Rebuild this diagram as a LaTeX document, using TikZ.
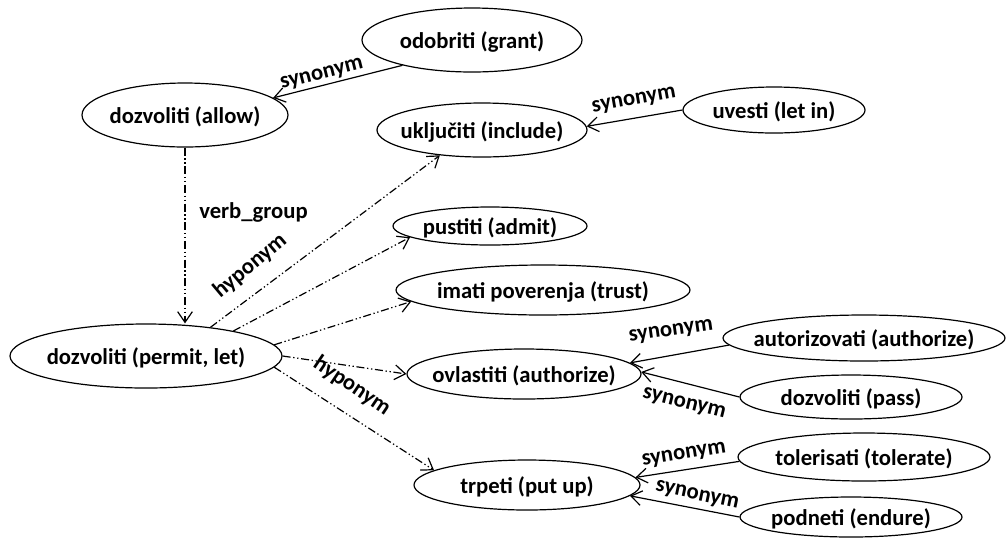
\documentclass[tikz,border=0pt]{standalone}
\usepackage{fontspec}
\setmainfont{Carlito}
\usetikzlibrary{arrows.meta,shapes.geometric}
\newcommand{\T}[1]{\raisebox{-0.75ex}[0pt][0pt]{\makebox[0pt]{#1}}}
\begin{document}
\begin{tikzpicture}[x=0.75pt,y=-0.75pt,
  ell/.style n args={2}{ellipse,draw,line width=0.9pt,inner sep=0pt,
     minimum width={1.5pt*#1},minimum height={1.5pt*#2}},
  every node/.style={font=\bfseries\fontsize{17}{20}\selectfont},
  tip/.style={-{Straight Barb[length=8pt,width=11pt]}},
  syn/.style={tip,line width=0.9pt},
  hyp/.style={tip,line width=0.9pt,dash pattern=on 6pt off 2pt on 1pt off 2pt on 1pt off 2pt},
  lbl/.style={inner sep=0pt,anchor=center}]
\useasboundingbox (0,0) rectangle (1006,537);
% nodes
\node[ell={110}{32}] (odob) at (472,40) {\T{odobriti (grant)}};
\node[ell={103}{32}] (allow) at (185,115) {\T{dozvoliti (allow)}};
\node[ell={105}{27}] (incl) at (482,130) {\T{uključiti (include)}};
\node[ell={91}{23}] (uvesti) at (774,110) {\T{uvesti (let in)}};
\node[ell={97}{19}] (pust) at (490,226) {\T{pustiti (admit)}};
\node[ell={147}{25}] (trust) at (543,290) {\T{imati poverenja (trust)}};
\node[ell={136}{32}] (permit) at (146,356) {\T{dozvoliti (permit, let)}};
\node[ell={117}{25}] (ovl) at (524,374) {\T{ovlastiti (authorize)}};
\node[ell={141}{23}] (autor) at (864,338) {\T{autorizovati (authorize)}};
\node[ell={111}{22}] (pass) at (851,397) {\T{dozvoliti (pass)}};
\node[ell={113}{25}] (trpeti) at (527,485) {\T{trpeti (put up)}};
\node[ell={126}{24}] (toler) at (864,457) {\T{tolerisati (tolerate)}};
\node[ell={111}{20}] (podn) at (851,517) {\T{podneti (endure)}};
% synonym edges
\draw[syn] (odob.200) -- (allow.11);
\draw[syn] (uvesti.180) -- (incl.2);
\draw[syn] (autor.183) -- (ovl.6);
\draw[syn] (pass.180) -- (ovl.1);
\draw[syn] (toler.182) -- (trpeti.4);
\draw[syn] (podn.180) -- (trpeti.354);
% verb group
\draw[hyp] (allow.south) -- (allow.south |- permit.north);
% hyponym edges
\draw[hyp] (permit.24) -- (incl.211);
\draw[hyp] (permit.16) -- (pust.188);
\draw[hyp] (permit.5) -- (trust.185);
\draw[hyp] (permit.0) -- (ovl.180);
\draw[hyp] (permit.355) -- (trpeti.171);
% labels
\node[lbl,rotate=14] (l1) at (322,75) {synonym};
\node[lbl,rotate=10] (l2) at (634,101) {synonym};
\node[lbl,rotate=8] (l3) at (671,332) {synonym};
\node[lbl,rotate=-14] (l4) at (684,404) {synonym};
\node[lbl,rotate=9] (l5) at (684,455) {synonym};
\node[lbl,rotate=-12] (l6) at (697,496) {synonym};
\node[lbl,anchor=west] (vg) at (199,212) {verb\_group};
\node[lbl,rotate=40] (h1) at (250,266) {hyponym};
\node[lbl,rotate=-34] (h2) at (352,386) {hyponym};
\end{tikzpicture}
\end{document}
